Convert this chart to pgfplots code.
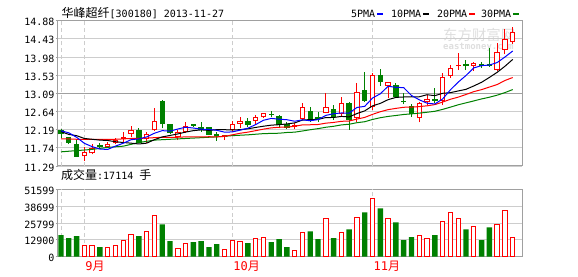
\documentclass[border=0pt]{standalone}
\usepackage{fontspec}
\usepackage{pgfplots}
\pgfplotsset{compat=1.18}
\usepackage{pgfplotstable}
\newfontfamily\cjk{Noto Sans CJK SC}
\newfontfamily\mono{DejaVu Sans Mono}
\definecolor{cRed}{RGB}{255,0,0}
\definecolor{cGreen}{RGB}{0,128,0}
\definecolor{cBlue}{RGB}{0,0,255}
\definecolor{cGrid}{RGB}{205,205,205}
\definecolor{cFrame}{RGB}{160,160,160}

% up days (close > open): i open high low close
\pgfplotstableread{
i O H L C
3 11.53 11.75 11.42 11.64
4 11.60 11.83 11.58 11.74
6 11.75 11.89 11.73 11.83
7 11.85 11.97 11.83 11.93
8 11.96 12.12 11.87 12.00
9 12.09 12.28 12.01 12.17
11 11.96 12.14 11.87 12.07
12 12.17 12.73 12.16 12.39
15 12.01 12.18 11.93 12.14
16 12.14 12.37 12.10 12.29
21 12.00 12.06 11.93 12.06
22 12.18 12.39 12.14 12.32
23 12.34 12.51 12.22 12.40
25 12.41 12.55 12.34 12.49
26 12.49 12.61 12.47 12.59
30 12.26 12.36 12.20 12.30
31 12.45 12.84 12.43 12.76
34 12.61 13.09 12.59 12.76
36 12.57 13.00 12.52 12.85
38 12.47 13.35 12.38 13.13
40 12.76 13.58 12.67 13.54
42 13.27 13.37 12.96 13.36
46 12.47 12.86 12.37 12.84
47 12.86 13.04 12.80 12.94
49 12.90 13.58 12.80 13.48
50 13.52 13.79 13.47 13.70
51 13.76 14.07 13.66 13.79
53 13.76 13.87 13.64 13.84
56 13.66 14.32 13.64 14.10
57 14.16 14.68 14.05 14.44
58 14.35 14.73 14.30 14.59
}\redc

% down days (close < open)
\pgfplotstableread{
i O H L C
0 12.18 12.20 11.97 12.07
1 12.00 12.01 11.83 11.87
2 11.83 11.93 11.52 11.52
5 11.81 11.85 11.72 11.77
10 12.17 12.23 11.85 11.87
13 12.90 12.92 12.22 12.32
14 12.33 12.34 12.07 12.10
17 12.33 12.34 12.26 12.29
18 12.26 12.38 12.14 12.18
19 12.25 12.26 12.05 12.06
20 12.07 12.14 11.92 12.04
24 12.41 12.47 12.26 12.30
27 12.58 12.65 12.51 12.55
28 12.53 12.55 12.22 12.30
29 12.33 12.38 12.20 12.24
32 12.65 12.76 12.38 12.44
33 12.49 12.63 12.38 12.44
35 12.71 12.80 12.43 12.51
37 12.85 12.88 12.18 12.43
39 13.18 13.61 12.88 12.90
41 13.54 13.68 13.27 13.37
43 13.29 13.35 12.99 13.00
44 12.90 13.09 12.82 12.86
45 12.78 12.81 12.51 12.57
48 12.94 13.21 12.84 12.90
52 13.80 13.91 13.66 13.76
54 13.80 13.87 13.72 13.76
55 13.80 14.20 13.74 13.77
}\greenc

% moving averages
\pgfplotstableread{
i m5 m10 m20 m30
0 12.16 12.14 11.96 11.64
1 12.11 12.07 11.96 11.655
2 12.00 12.04 11.95 11.67
3 11.85 11.97 11.95 11.685
4 11.768 11.95 11.95 11.70
5 11.708 11.93 11.95 11.725
6 11.700 11.92 11.95 11.75
7 11.782 11.89 11.95 11.765
8 11.854 11.87 11.96 11.78
9 11.940 11.854 11.97 11.825
10 11.960 11.834 11.97 11.87
11 12.008 11.854 11.98 11.90
12 12.100 11.941 11.99 11.93
13 12.164 12.009 12.00 11.94
14 12.150 12.045 12.00 11.95
15 12.204 12.082 12.00 11.96
16 12.248 12.128 12.01 11.97
17 12.228 12.164 12.01 11.98
18 12.200 12.182 12.01 11.99
19 12.192 12.171 12.013 12.00
20 12.172 12.188 12.011 12.01
21 12.126 12.187 12.021 12.025
22 12.132 12.180 12.061 12.04
23 12.176 12.188 12.099 12.05
24 12.224 12.208 12.127 12.06
25 12.314 12.243 12.163 12.075
26 12.420 12.273 12.201 12.09
27 12.466 12.299 12.232 12.095
28 12.446 12.311 12.247 12.10
29 12.434 12.329 12.250 12.118
30 12.396 12.355 12.272 12.126
31 12.430 12.425 12.306 12.155
32 12.408 12.437 12.309 12.186
33 12.436 12.441 12.315 12.213
34 12.540 12.487 12.348 12.247
35 12.582 12.489 12.366 12.271
36 12.600 12.515 12.394 12.305
37 12.598 12.503 12.401 12.322
38 12.736 12.586 12.449 12.360
39 12.764 12.652 12.491 12.384
40 12.970 12.776 12.566 12.440
41 13.074 12.837 12.631 12.483
42 13.260 12.929 12.683 12.515
43 13.234 12.985 12.713 12.538
44 13.226 12.995 12.741 12.563
45 13.032 13.001 12.745 12.578
46 12.926 13.000 12.758 12.596
47 12.842 13.051 12.777 12.618
48 12.822 13.028 12.807 12.642
49 12.946 13.086 12.869 12.689
50 13.172 13.102 12.939 12.744
51 13.362 13.144 12.991 12.802
52 13.526 13.184 13.057 12.850
53 13.714 13.268 13.127 12.898
54 13.770 13.358 13.177 12.947
55 13.784 13.478 13.240 12.989
56 13.846 13.604 13.302 13.040
57 13.982 13.754 13.403 13.103
58 14.132 13.923 13.476 13.179
}\ma

% volume, up days
\pgfplotstableread{
i v
3 8602
4 8602
6 7084
7 8602
8 12397
9 16951
11 19228
12 31372
15 6325
16 10120
21 5566
22 12397
23 11638
25 13915
26 14674
30 4807
31 18469
34 29095
36 18469
38 29854
40 44275
42 29095
46 16192
47 13915
49 26818
50 33649
51 29095
53 23023
56 24541
57 35167
58 14900
}\redv

% volume, down days
\pgfplotstableread{
i v
0 16445
1 14168
2 15686
5 7337
10 15686
13 24794
14 11891
17 11132
18 11891
19 7337
20 9614
24 10373
27 11132
28 13409
29 7337
32 19481
33 13409
35 14168
37 20999
39 33902
41 36938
43 26312
44 12650
45 14927
48 16445
52 20999
54 12650
55 22517
}\greenv

\pgfplotsset{
  common/.style={
    scale only axis, width=464.6pt, anchor=south west,
    xmin=-0.424, xmax=59.23,
    axis line style={cFrame, line width=1pt},
    xtick=\empty,
    extra x ticks={0,3,22,40},
    ytick pos=left, tick align=outside, major tick length=2pt,
    tick style={cFrame, line width=0.8pt},
    ymajorgrids, major grid style={cGrid, line width=0.8pt},
    scaled y ticks=false,
    yticklabel style={font=\mono\fontsize{10}{12}\selectfont, inner xsep=1pt, yshift=-1.5pt},
  },
}

\begin{document}
\begin{tikzpicture}
\path[use as bounding box] (0pt,0pt) rectangle (578pt,276pt);

% watermark
\node[anchor=west, inner sep=0pt, text=black!13] at (443pt,241pt) {\cjk\fontsize{14.4}{15}\selectfont 东方财富网};
\node[anchor=west, inner sep=0pt, text=black!13] at (443pt,229pt) {\mono\bfseries\fontsize{9}{10}\selectfont eastmoney.com};

% price panel
\begin{axis}[common,
  at={(57.7pt,110pt)}, height=145.3pt,
  ymin=11.29, ymax=14.88,
  extra x tick labels={},
  extra x tick style={grid=major, major tick length=0pt,
    major grid style={cGrid, line width=0.8pt, dash pattern=on 4pt off 2.7pt}},
  ytick={11.29,11.73875,12.1875,12.63625,13.53375,13.9825,14.43125,14.88},
  yticklabels={11.29,11.74,12.19,12.64,13.53,13.98,14.43,14.88},
  extra y ticks={13.085}, extra y tick labels={13.09},
  extra y tick style={grid=major, major grid style={cFrame, line width=0.8pt}},
]
% wicks
\addplot[draw=none, mark=none, forget plot,
  error bars/y dir=plus, error bars/y explicit, error bars/error mark=none,
  error bars/error bar style={line width=1pt, cRed}]
  table[x=i, y=L, y error expr=\thisrow{H}-\thisrow{L}] {\redc};
\addplot[draw=none, mark=none, forget plot,
  error bars/y dir=plus, error bars/y explicit, error bars/error mark=none,
  error bars/error bar style={line width=1pt, cGreen}]
  table[x=i, y=L, y error expr=\thisrow{H}-\thisrow{L}] {\greenc};
% bodies
\addplot[draw=none, mark=none, forget plot,
  error bars/y dir=plus, error bars/y explicit, error bars/error mark=none,
  error bars/error bar style={line width=5.4pt, cGreen}]
  table[x=i, y=C, y error expr=\thisrow{O}-\thisrow{C}] {\greenc};
\addplot[draw=none, mark=none, forget plot,
  error bars/y dir=plus, error bars/y explicit, error bars/error mark=none,
  error bars/error bar style={line width=5.4pt, cRed}]
  table[x=i, y=O, y error expr=\thisrow{C}-\thisrow{O}] {\redc};
\addplot[draw=none, mark=none, forget plot,
  error bars/y dir=plus, error bars/y explicit, error bars/error mark=none,
  error bars/error bar style={line width=3.4pt, white}]
  table[x=i, y expr=\thisrow{O}+0.0247, y error expr={max(\thisrow{C}-\thisrow{O}-0.0494,0)}] {\redc};
% moving averages
\addplot[cGreen, line width=1pt, mark=none] table[x=i, y=m30] {\ma};
\addplot[cRed, line width=1pt, mark=none] table[x=i, y=m20] {\ma};
\addplot[black, line width=1pt, mark=none] table[x=i, y=m10] {\ma};
\addplot[cBlue, line width=1pt, mark=none] table[x=i, y=m5] {\ma};
\end{axis}

% volume panel
\begin{axis}[common,
  at={(57.7pt,19.3pt)}, height=67.4pt,
  ymin=0, ymax=51599,
  ytick={0,12900,25799,38699,51599},
  yticklabels={0,12900,25799,38699,51599},
  extra x tick labels={,{\mono 9}月,{\mono 10}月,{\mono 11}月},
  extra x tick style={grid=major, major tick length=0pt,
    major grid style={cGrid, line width=0.8pt, dash pattern=on 4pt off 2.7pt},
    xticklabel style={text=cRed, anchor=north west, xshift=-2.5pt, yshift=-0.5pt,
      font=\cjk\fontsize{12}{14}\selectfont}},
]
\addplot[ybar, bar width=5.4pt, bar shift=0pt, fill=cGreen, draw=none] table[x=i, y=v] {\greenv};
\addplot[ybar, bar width=4.4pt, bar shift=0pt, fill=white, draw=cRed, line width=1pt] table[x=i, y=v] {\redv};
\end{axis}

% title
\node[anchor=base west, inner sep=0pt] at (61.5pt,258.7pt)
  {{\cjk\fontsize{12}{14}\selectfont 华峰超纤}{\mono\fontsize{10}{12}\selectfont [300180] 2013-11-27}};
% legend
\node[anchor=base east, inner sep=0pt] at (375.3pt,258.7pt) {\mono\fontsize{10}{12}\selectfont 5PMA};
\fill[cBlue] (377.3pt,260.7pt) rectangle (382.7pt,262.7pt);
\node[anchor=base east, inner sep=0pt] at (421.3pt,258.7pt) {\mono\fontsize{10}{12}\selectfont 10PMA};
\fill[black] (423.3pt,260.7pt) rectangle (428.7pt,262.7pt);
\node[anchor=base east, inner sep=0pt] at (467.3pt,258.7pt) {\mono\fontsize{10}{12}\selectfont 20PMA};
\fill[cRed] (469.3pt,260.7pt) rectangle (474.7pt,262.7pt);
\node[anchor=base east, inner sep=0pt] at (511.3pt,258.7pt) {\mono\fontsize{10}{12}\selectfont 30PMA};
\fill[cGreen] (513.3pt,260.7pt) rectangle (519.3pt,262.7pt);
% volume header
\node[anchor=base west, inner sep=0pt] at (61pt,96pt)
  {{\cjk\fontsize{12}{14}\selectfont 成交量}{\mono\fontsize{10}{12}\selectfont :17114 }{\cjk\fontsize{12}{14}\selectfont 手}};
\end{tikzpicture}
\end{document}
